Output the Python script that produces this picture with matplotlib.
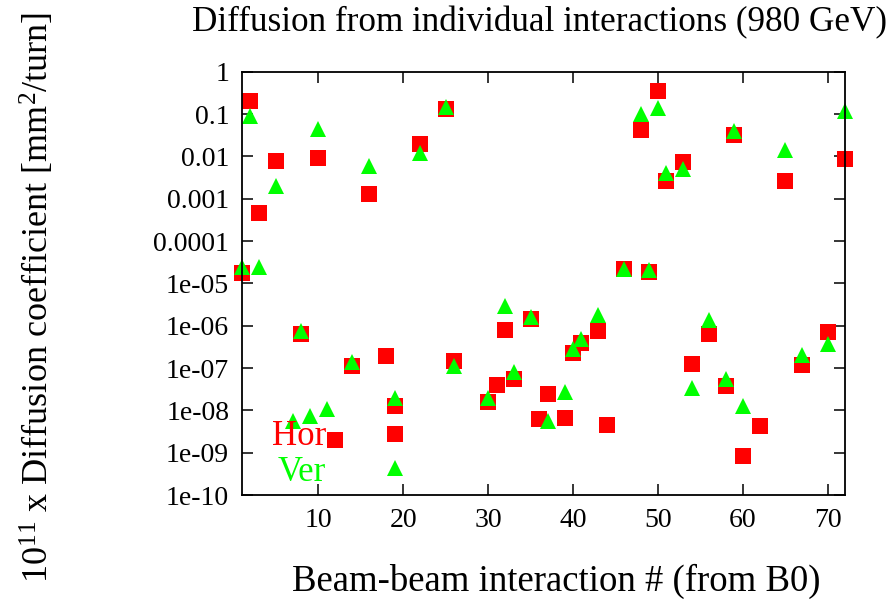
import matplotlib
matplotlib.use("Agg")
from matplotlib import pyplot as plt

# horizontal diffusion (red squares)
hor_x = [1, 2, 3, 5, 8, 10, 12, 14, 16, 18, 19, 19, 22, 25, 26, 30, 31, 32, 33, 35,
         36, 37, 39, 40, 41, 43, 44, 46, 48, 49, 50, 51, 53, 54, 56, 58, 59, 60, 62,
         65, 67, 70, 72]
hor_y = [1.8e-5, 0.2, 4.5e-4, 0.0078, 6.5e-7, 0.009, 2e-9, 1.1e-7, 0.0013, 1.9e-7,
         1.3e-8, 2.7e-9, 0.02, 0.13, 1.5e-7, 1.6e-8, 4e-8, 8e-7, 5.5e-8, 1.45e-6,
         6.3e-9, 2.4e-8, 6.6e-9, 2.3e-7, 4e-7, 7.5e-7, 4.5e-9, 2.2e-5, 0.042, 1.9e-5,
         0.35, 0.0026, 0.0075, 1.25e-7, 6.3e-7, 3.8e-8, 0.032, 8.3e-10, 4.3e-9,
         0.0026, 1.2e-7, 7.2e-7, 0.0087]

# vertical diffusion (green triangles)
ver_x = [1, 2, 3, 5, 7, 8, 9, 10, 11, 14, 16, 19, 19, 22, 25, 26, 30, 32, 33, 35,
         37, 39, 40, 41, 43, 46, 48, 49, 50, 51, 53, 54, 56, 58, 59, 60, 65, 67, 70, 72]
ver_y = [2.5e-5, 0.09, 2.4e-5, 0.002, 5.5e-9, 7.5e-7, 7.5e-9, 0.045, 1.1e-8, 1.4e-7,
         0.006, 2e-8, 4.3e-10, 0.012, 0.15, 1.1e-7, 2e-8, 3e-6, 8e-8, 1.6e-6,
         5.7e-9, 2.7e-8, 2.8e-7, 4.8e-7, 1.8e-6, 2.2e-5, 0.1, 2.1e-5, 0.14, 0.004,
         0.005, 3.3e-8, 1.4e-6, 5.5e-8, 0.04, 1.3e-8, 0.014, 2e-7, 3.7e-7, 0.12]

x_ticks = [10, 20, 30, 40, 50, 60, 70]
y_ticks = [1, 0.1, 0.01, 0.001, 0.0001, 1e-5, 1e-6, 1e-7, 1e-8, 1e-9, 1e-10]
y_tick_labels = ["1", "0.1", "0.01", "0.001", "0.0001", "1e-05", "1e-06",
                 "1e-07", "1e-08", "1e-09", "1e-10"]

plt.rcParams['font.family'] = ['Liberation Serif', 'DejaVu Serif']
plt.rcParams['mathtext.fontset'] = 'custom'
plt.rcParams['mathtext.rm'] = 'Liberation Serif'
plt.rcParams['mathtext.it'] = 'Liberation Serif:italic'

fig = plt.figure(figsize=(8.95, 6.03), dpi=100)
ax = fig.add_axes([0.270, 0.179, 0.674, 0.702])

ax.plot(hor_x, hor_y, 's', color='#ff0000', ms=11.5, mew=0, ls='none', clip_on=False)
ax.plot(ver_x, ver_y, '^', color='#00ff00', ms=11, mew=0, ls='none', clip_on=False)

ax.set_yscale('log')
ax.set_xlim(1, 72)
ax.set_ylim(1e-10, 1)
ax.set_xticks(x_ticks)
ax.set_yticks(y_ticks)
ax.set_yticklabels(y_tick_labels)
ax.minorticks_off()
ax.tick_params(direction='in', length=8, width=1.1, top=True, right=True,
               labelsize=20, pad=9)
for s in ax.spines.values():
    s.set_linewidth(1.3)

ax.text(0.14, 0.139, "Hor", color='#ff0000', fontsize=25, ha='right', va='center',
        transform=ax.transAxes)
ax.text(0.14, 0.054, "Ver", color='#00ff00', fontsize=25, ha='right', va='center',
        transform=ax.transAxes)

fig.text(540 / 895, 1 - 23 / 603, "Diffusion from individual interactions (980 GeV)",
         fontsize=25.3, ha='center', va='center')
fig.text(556 / 895, 1 - 581 / 603, "Beam-beam interaction # (from B0)",
         fontsize=26.5, ha='center', va='center')
fig.text(38 / 895, 1 - 297 / 603,
         r"10$^{11}$ x Diffusion coefficient [mm$^{2}$/turn]",
         fontsize=26, ha='center', va='center', rotation=90)

fig.savefig('out.png', dpi=100)
